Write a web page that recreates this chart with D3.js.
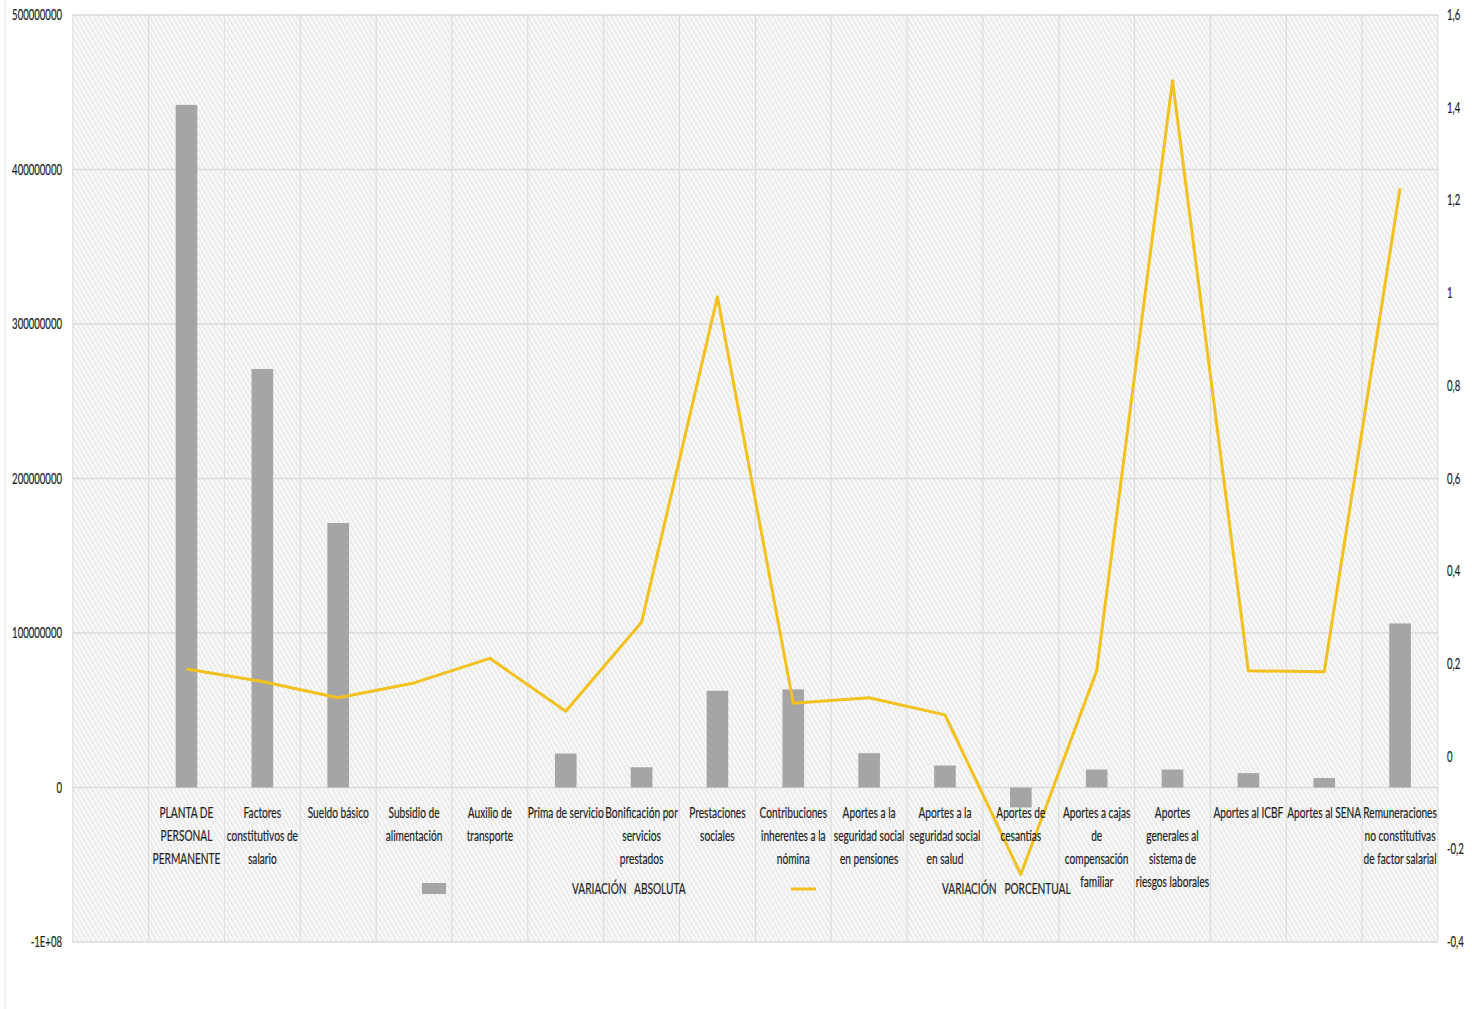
<!DOCTYPE html>
<html><head><meta charset="utf-8">
<script src="https://cdn.jsdelivr.net/npm/d3@7"></script>
<style>
body{margin:0;background:#fff;}
svg{display:block;}
text{font-family:Lato,"Open Sans","Liberation Sans",sans-serif;fill:#1e1e1e;stroke:#1e1e1e;stroke-width:0.2px;}
</style></head><body>
<svg id="c" width="1472" height="1009"></svg>
<script>
// ---- data ----
const categories = ["", "PLANTA DE PERSONAL PERMANENTE", "Factores constitutivos de salario", "Sueldo básico",
  "Subsidio de alimentación", "Auxilio de transporte", "Prima de servicio", "Bonificación por servicios prestados",
  "Prestaciones sociales", "Contribuciones inherentes a la nómina", "Aportes a la seguridad social en pensiones",
  "Aportes a la seguridad social en salud", "Aportes de cesantías", "Aportes a cajas de compensación familiar",
  "Aportes generales al sistema de riesgos laborales", "Aportes al ICBF", "Aportes al SENA",
  "Remuneraciones no constitutivas de factor salarial"];
const categoryLines = [[], ["PLANTA DE","PERSONAL","PERMANENTE"], ["Factores","constitutivos de","salario"], ["Sueldo básico"],
  ["Subsidio de","alimentación"], ["Auxilio de","transporte"], ["Prima de servicio"], ["Bonificación por","servicios","prestados"],
  ["Prestaciones","sociales"], ["Contribuciones","inherentes a la","nómina"], ["Aportes a la","seguridad social","en pensiones"],
  ["Aportes a la","seguridad social","en salud"], ["Aportes de","cesantías"], ["Aportes a cajas","de","compensación","familiar"],
  ["Aportes","generales al","sistema de","riesgos laborales"], ["Aportes al ICBF"], ["Aportes al SENA"],
  ["Remuneraciones","no constitutivas","de factor salarial"]];
const variacionAbsoluta = [null, 441.8e6, 270.9e6, 171.2e6, 0, 0, 22.0e6, 13.1e6, 62.6e6, 63.5e6, 22.2e6, 14.2e6,
  -12.9e6, 11.6e6, 11.6e6, 9.3e6, 6.1e6, 106.2e6];
const variacionPorcentual = [null, 0.189, 0.162, 0.127, 0.159, 0.212, 0.098, 0.290, 0.992, 0.115, 0.127, 0.090,
  -0.254, 0.185, 1.458, 0.185, 0.183, 1.226];
const leftTicks = [-1e8, 0, 1e8, 2e8, 3e8, 4e8, 5e8];
const leftTickLabels = ["-1E+08", "0", "100000000", "200000000", "300000000", "400000000", "500000000"];
const rightTicks = [-0.4, -0.2, 0, 0.2, 0.4, 0.6, 0.8, 1, 1.2, 1.4, 1.6];
const rightTickLabels = ["-0,4", "-0,2", "0", "0,2", "0,4", "0,6", "0,8", "1", "1,2", "1,4", "1,6"];
const legendLabels = ["VARIACIÓN   ABSOLUTA", "VARIACIÓN   PORCENTUAL"];

// ---- layout ----
const svg = d3.select("#c");
const L = 72.7, R = 1438, T = 15, B = 942;
const barColor = "#a5a5a5", lineColor = "#f2c11d", gridColor = "#dadada";
const catFont = 15.5, axFont = 14.5;

const x = d3.scaleBand().domain(d3.range(categories.length)).range([L, R]).paddingInner(0).paddingOuter(0);
const yL = d3.scaleLinear().domain([-1e8, 5e8]).range([B, T]);
const yR = d3.scaleLinear().domain([-0.4, 1.6]).range([B, T]);

// horizontal compression factors measured from the font (Calibri-like narrow look)
function measure(str, size) {
  const t = svg.append("text").attr("font-size", size).text(str);
  const w = t.node().getComputedTextLength(); t.remove(); return w;
}
const kCat = 76 / measure("Prima de servicio", catFont);
const kAx = 50 / measure("500000000", axFont);

// outer border
svg.append("line").attr("x1", 5).attr("x2", 5).attr("y1", 0).attr("y2", 1009).attr("stroke", "#e2e2e2");

// hatch pattern
const defs = svg.append("defs");
const pat = defs.append("pattern").attr("id", "hatch").attr("patternUnits", "userSpaceOnUse")
  .attr("width", 4).attr("height", 4).attr("patternTransform", "rotate(-30)");
pat.append("rect").attr("width", 4).attr("height", 4).attr("fill", "#f9f9f9");
pat.append("line").attr("x1", 1).attr("x2", 1).attr("y1", 0).attr("y2", 4).attr("stroke", "#e1e1e1").attr("stroke-width", 1.1);

svg.append("rect").attr("x", L).attr("y", T).attr("width", R - L).attr("height", B - T).attr("fill", "url(#hatch)");

// gridlines
svg.append("g").selectAll("line").data(leftTicks).join("line")
  .attr("x1", L).attr("x2", R).attr("y1", d => yL(d)).attr("y2", d => yL(d))
  .attr("stroke", gridColor).attr("stroke-width", 1.3);
const bounds = d3.range(categories.length + 1).map(i => i < categories.length ? x(i) : R);
svg.append("g").selectAll("line").data(bounds).join("line")
  .attr("x1", d => d).attr("x2", d => d).attr("y1", T).attr("y2", B)
  .attr("stroke", gridColor).attr("stroke-width", 1);

// bars
const bw = x.bandwidth() * 0.285;
svg.append("g").selectAll("rect").data(variacionAbsoluta.map((v, i) => ({v, i})).filter(d => d.v !== null && d.v !== 0))
  .join("rect")
  .attr("x", d => x(d.i) + x.bandwidth() / 2 - bw / 2)
  .attr("width", bw)
  .attr("y", d => Math.min(yL(d.v), yL(0)))
  .attr("height", d => Math.abs(yL(d.v) - yL(0)))
  .attr("fill", barColor);

// line
const pts = variacionPorcentual.map((v, i) => ({v, i})).filter(d => d.v !== null);
svg.append("path").datum(pts)
  .attr("d", d3.line().x(d => x(d.i) + x.bandwidth() / 2).y(d => yR(d.v)))
  .attr("fill", "none").attr("stroke", lineColor).attr("stroke-width", 3).attr("stroke-linejoin", "round");

// axes labels
svg.append("g").selectAll("text").data(leftTicks).join("text")
  .attr("transform", d => `translate(62,${yL(d) + 5}) scale(${kAx},1)`)
  .attr("text-anchor", "end").attr("font-size", axFont)
  .text((d, i) => leftTickLabels[i]);
svg.append("g").selectAll("text").data(rightTicks).join("text")
  .attr("transform", d => `translate(1447,${yR(d) + 5}) scale(${kAx},1)`)
  .attr("text-anchor", "start").attr("font-size", axFont)
  .text((d, i) => rightTickLabels[i]);

// category labels
const cg = svg.append("g");
categoryLines.forEach((lines, i) => {
  const cx = x(i) + x.bandwidth() / 2;
  lines.forEach((ln, k) => {
    cg.append("text")
      .attr("transform", `translate(${cx},${818 + k * 23}) scale(${kCat},1)`)
      .attr("text-anchor", "middle").attr("font-size", catFont)
      .text(ln);
  });
});

// legend
svg.append("rect").attr("x", 422).attr("y", 883).attr("width", 24).attr("height", 11).attr("fill", barColor);
svg.append("text").attr("transform", `translate(572,894) scale(${kCat},1)`).attr("font-size", catFont)
  .attr("xml:space", "preserve").style("white-space", "pre").text(legendLabels[0]);
svg.append("line").attr("x1", 791).attr("x2", 816).attr("y1", 889).attr("y2", 889)
  .attr("stroke", lineColor).attr("stroke-width", 3);
svg.append("text").attr("transform", `translate(942,894) scale(${kCat},1)`).attr("font-size", catFont)
  .attr("xml:space", "preserve").style("white-space", "pre").text(legendLabels[1]);
</script>
</body></html>
